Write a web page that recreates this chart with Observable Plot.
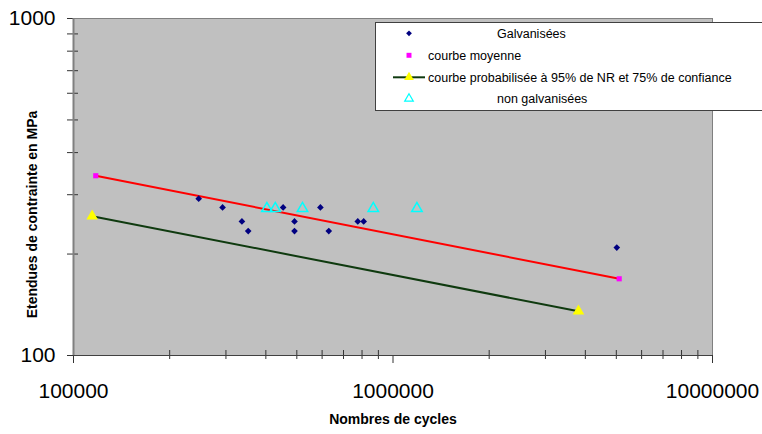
<!DOCTYPE html>
<html>
<head>
<meta charset="utf-8">
<script src="https://cdn.jsdelivr.net/npm/d3@7"></script>
<script src="https://cdn.jsdelivr.net/npm/@observablehq/plot@0.6"></script>
<style>
  html, body { margin: 0; padding: 0; background: #fff; overflow: hidden; }
  #wrap { position: relative; width: 762px; height: 434px; overflow: hidden; }
  #legend { position: absolute; left: 375px; top: 22px; }
</style>
</head>
<body>
<div id="wrap"></div>
<script>
// ---- data ----
const galvN = [246500, 292800, 336600, 352200, 453000, 491700, 491700, 592600, 629500, 775800, 809500, 5017000];
const galvS = [292, 275, 250, 234, 275, 250, 234, 275, 234, 250, 250, 209];

const nonGalvN = [403000, 428000, 520800, 867500, 1188000];
const nonGalvS = [273, 273, 273, 273, 273];

const moyN = [117400, 5105000];
const moyS = [341.5, 168.9];

const probaN = [114400, 3806000];
const probaS = [259, 135.3];

const xMajor = [1e5, 1e6, 1e7];
const xMinor = [2e5, 3e5, 4e5, 5e5, 6e5, 7e5, 8e5, 9e5, 2e6, 3e6, 4e6, 5e6, 6e6, 7e6, 8e6, 9e6];
const yMajor = [100, 1000];
const yMinor = [200, 300, 400, 500, 600, 700, 800, 900];

const xTitle = "Nombres de cycles";
const yTitle = "Etendues de contrainte en MPa";

const legendItems = [
  {label: "Galvanisées", kind: "diamond"},
  {label: "courbe moyenne", kind: "square"},
  {label: "courbe probabilisée à 95% de NR et 75% de confiance", kind: "lineTri"},
  {label: "non galvanisées", kind: "openTri"}
];

// ---- build tables ----
const galv = galvN.map((n, i) => ({n, s: galvS[i]}));
const nonGalv = nonGalvN.map((n, i) => ({n, s: nonGalvS[i]}));
const moy = moyN.map((n, i) => ({n, s: moyS[i]}));
const proba = probaN.map((n, i) => ({n, s: probaS[i]}));

const font = "'Liberation Sans', Arial, sans-serif";
const tickColor = "#333";

const chart = Plot.plot({
  width: 762,
  height: 434,
  marginLeft: 73,
  marginRight: 50,
  marginTop: 18,
  marginBottom: 79,
  style: {fontFamily: font, background: "transparent", color: "#000"},
  x: {type: "log", domain: [1e5, 1e7]},
  y: {type: "log", domain: [100, 1000]},
  marks: [
    Plot.frame({fill: "#c0c0c0", stroke: "#808080"}),
    // x ticks
    Plot.axisX({ticks: xMinor, tickSize: 9, dy: -5, tickFormat: () => "", label: null, stroke: tickColor}),
    Plot.axisX({ticks: xMajor, tickSize: 8, tickFormat: () => "", label: null, stroke: tickColor}),
    Plot.axisX({ticks: xMajor, tickSize: 0, tickPadding: 28, tickFormat: d => String(d), fontSize: 21, label: null, fill: "#000"}),
    // y ticks
    Plot.axisY({ticks: yMinor, tickSize: 11, dx: 5, tickFormat: () => "", label: null, stroke: tickColor}),
    Plot.axisY({ticks: yMajor, tickSize: 6, tickFormat: () => "", label: null, stroke: tickColor}),
    Plot.axisY({ticks: yMajor, tickSize: 0, tickPadding: 18, tickFormat: d => String(d), fontSize: 21, label: null, fill: "#000"}),
    // axis lines
    Plot.ruleX([1e5], {stroke: "#808080", strokeWidth: 2}),
    Plot.ruleY([100], {stroke: "#404040", strokeWidth: 1}),
    // titles
    Plot.text([xTitle], {frameAnchor: "bottom", dy: 68, fontSize: 14, fontWeight: "bold", fill: "#000"}),
    Plot.text([yTitle], {frameAnchor: "left", textAnchor: "middle", dx: -41, dy: 27.5, rotate: -90, fontSize: 14, fontWeight: "bold", fill: "#000"}),
    // lines
    Plot.line(moy, {x: "n", y: "s", stroke: "#ff0000", strokeWidth: 2}),
    Plot.line(proba, {x: "n", y: "s", stroke: "#0f3a0f", strokeWidth: 2}),
    // markers
    Plot.dot(galv, {x: "n", y: "s", symbol: "diamond2", r: 3.0, fill: "#000080", stroke: "none"}),
    Plot.dot(nonGalv, {x: "n", y: "s", symbol: "triangle", r: 3.9, fill: "none", stroke: "#00ffff", strokeWidth: 1.5}),
    Plot.dot(moy, {x: "n", y: "s", symbol: "square", r: 2.9, fill: "#ff00ff", stroke: "none"}),
    Plot.dot(proba, {x: "n", y: "s", symbol: "triangle", r: 4.3, fill: "#ffff00", stroke: "none"})
  ]
});

const wrap = document.getElementById("wrap");
wrap.appendChild(chart);

// ---- legend overlay ----
const lw = 400, lh = 89;
const leg = d3.create("svg").attr("id", "legend").attr("width", lw).attr("height", lh)
  .style("font-family", font);
leg.append("rect").attr("x", 0.5).attr("y", 0.5).attr("width", lw - 1).attr("height", lh - 1)
  .attr("fill", "#fff").attr("stroke", "#404040");
const rowY = [11.3, 33.3, 55.3, 76.7];
const textX = [122, 53, 53, 122];
const mx = 34;
const sym = (type, r) => d3.symbol(type, Math.PI * r * r)();
legendItems.forEach((it, i) => {
  const y = rowY[i];
  const g = leg.append("g");
  if (it.kind === "diamond") {
    g.append("path").attr("transform", `translate(${mx},${y})`).attr("d", sym(d3.symbolDiamond2, 2.6)).attr("fill", "#000080");
  } else if (it.kind === "square") {
    g.append("path").attr("transform", `translate(${mx},${y})`).attr("d", sym(d3.symbolSquare, 2.8)).attr("fill", "#ff00ff");
  } else if (it.kind === "lineTri") {
    g.append("line").attr("x1", mx - 16).attr("x2", mx + 16).attr("y1", y).attr("y2", y).attr("stroke", "#0f3a0f").attr("stroke-width", 2);
    g.append("path").attr("transform", `translate(${mx},${y})`).attr("d", sym(d3.symbolTriangle, 3.6)).attr("fill", "#ffff00");
  } else {
    g.append("path").attr("transform", `translate(${mx},${y})`).attr("d", sym(d3.symbolTriangle, 3.2)).attr("fill", "none").attr("stroke", "#00ffff").attr("stroke-width", 1.2);
  }
  leg.append("text").attr("x", textX[i]).attr("y", y).attr("dy", "0.35em")
    .attr("font-size", 12.5).attr("fill", "#000").text(it.label);
});
wrap.appendChild(leg.node());
</script>
</body>
</html>
